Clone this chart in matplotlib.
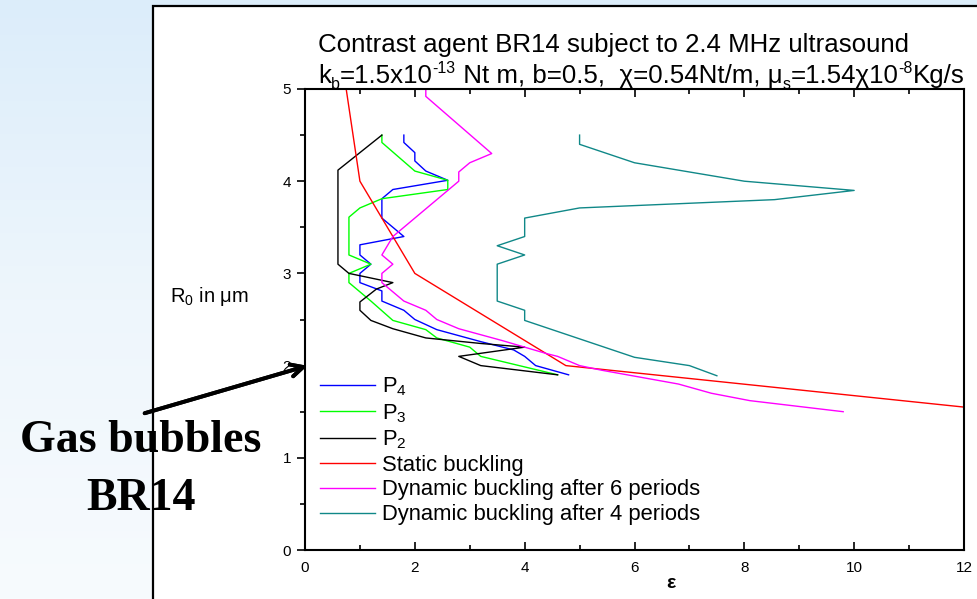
import numpy as np
import matplotlib.pyplot as plt
from matplotlib.colors import LinearSegmentedColormap
from matplotlib.patches import Rectangle
from matplotlib.ticker import MultipleLocator

plt.rcParams['font.family'] = ['Liberation Sans', 'DejaVu Sans']
plt.rcParams['mathtext.fontset'] = 'custom'
plt.rcParams['mathtext.rm'] = 'Liberation Sans'
plt.rcParams['mathtext.it'] = 'Liberation Sans:italic'

# buckling curves: strain eps (x) against initial radius R0 in um (y)
p4_eps = [1.8, 1.8, 2.0, 2.0, 2.2, 2.6, 1.6, 1.4, 1.4, 1.8, 1.0, 1.0, 1.2, 1.0, 1.0,
          1.4, 1.4, 1.8, 2.0, 2.4, 3.2, 3.8, 4.0, 4.2, 4.8]
p4_r0 = [4.5, 4.42, 4.31, 4.22, 4.11, 4.01, 3.91, 3.81, 3.6, 3.4, 3.31, 3.2, 3.1, 3.0, 2.9,
         2.81, 2.7, 2.6, 2.5, 2.39, 2.26, 2.17, 2.1, 2.0, 1.9]

p3_eps = [1.4, 1.4, 2.0, 2.6, 2.6, 1.4, 1.0, 0.8, 0.8, 1.2, 0.8, 0.8, 1.2, 1.6, 2.2,
          2.4, 3.0, 3.2, 4.6]
p3_r0 = [4.5, 4.42, 4.11, 4.01, 3.91, 3.81, 3.71, 3.61, 3.2, 3.1, 3.0, 2.9, 2.7, 2.49, 2.39,
         2.3, 2.2, 2.1, 1.9]

p2_eps = [1.4, 0.6, 0.6, 0.8, 1.6, 1.3, 1.0, 1.0, 1.2, 1.6, 2.2, 3.2, 4.0, 2.8, 3.2, 4.6]
p2_r0 = [4.5, 4.12, 3.1, 3.0, 2.9, 2.83, 2.69, 2.6, 2.49, 2.4, 2.3, 2.24, 2.2, 2.1, 2.0, 1.9]

static_eps = [0.75, 1.0, 2.0, 4.75, 12.0]
static_r0 = [5.0, 4.0, 3.0, 2.0, 1.55]

dyn6_eps = [2.2, 2.2, 3.4, 3.0, 2.8, 2.8, 1.6, 1.4, 1.6, 1.4, 1.4, 1.8, 2.2, 2.4, 2.8,
            3.6, 4.4, 4.6, 5.0, 5.4, 6.8, 7.4, 8.1, 9.8]
dyn6_r0 = [5.0, 4.92, 4.3, 4.2, 4.1, 4.0, 3.4, 3.2, 3.1, 3.0, 2.9, 2.7, 2.6, 2.5, 2.4,
           2.27, 2.13, 2.1, 2.0, 1.95, 1.8, 1.7, 1.62, 1.5]

dyn4_eps = [5.0, 5.0, 6.0, 8.0, 10.0, 8.55, 5.0, 4.0, 4.0, 3.5, 4.0, 3.5, 3.5, 4.0, 4.0,
            6.0, 7.0, 7.5]
dyn4_r0 = [4.5, 4.4, 4.2, 4.0, 3.9, 3.8, 3.71, 3.6, 3.4, 3.3, 3.2, 3.1, 2.7, 2.6, 2.49,
           2.09, 2.0, 1.89]

W, H = 978, 599
fig = plt.figure(figsize=(W / 100, H / 100), dpi=100)

# slide background with the white picture frame
bg = fig.add_axes([0, 0, 1, 1], zorder=-10)
slide = LinearSegmentedColormap.from_list('slide', ['#dcedfa', '#eef6fc', '#f7fbfe'])
bg.imshow(np.linspace(0, 1, 256)[:, None], aspect='auto', cmap=slide,
          extent=[0, 1, 0, 1], origin='upper')
bg.add_patch(Rectangle((153 / W, -0.05), 1, 1 - 6 / H + 0.05, facecolor='white',
                       edgecolor='black', lw=1.6, transform=bg.transAxes))
bg.set_xlim(0, 1)
bg.set_ylim(0, 1)
bg.set_axis_off()

ax = fig.add_axes([305 / W, 49 / H, 659 / W, 461 / H])
ax.set_facecolor('none')

lw = 1.0
ax.plot(p4_eps, p4_r0, color='#0000ff', lw=lw, label=r'P$_\mathregular{4}$')
ax.plot(p3_eps, p3_r0, color='#00ff00', lw=lw, label=r'P$_\mathregular{3}$')
ax.plot(p2_eps, p2_r0, color='black', lw=lw, label=r'P$_\mathregular{2}$')
ax.plot(static_eps, static_r0, color='#ff0000', lw=lw, label='Static buckling')
ax.plot(dyn6_eps, dyn6_r0, color='#ff00ff', lw=lw, label='Dynamic buckling after 6 periods')
ax.plot(dyn4_eps, dyn4_r0, color='#108888', lw=lw, label='Dynamic buckling after 4 periods')

ax.set_xlim(0, 12)
ax.set_ylim(0, 5)
ax.xaxis.set_major_locator(MultipleLocator(2))
ax.xaxis.set_minor_locator(MultipleLocator(1))
ax.yaxis.set_major_locator(MultipleLocator(1))
ax.yaxis.set_minor_locator(MultipleLocator(0.5))
ax.tick_params(axis='x', which='both', direction='in', top=True, bottom=True,
               labelsize=11, pad=8, width=1.2)
ax.tick_params(axis='y', which='both', direction='out', left=True, right=False,
               labelsize=11, pad=4, width=1.2)
ax.tick_params(which='major', length=6)
ax.tick_params(which='minor', length=3.5)
for s in ax.spines.values():
    s.set_linewidth(1.5)

ax.legend(loc='upper left', bbox_to_anchor=(0.0226, 0.378), frameon=False,
          fontsize=15.8, handlelength=2.5, handletextpad=0.32, labelspacing=0.17,
          borderpad=0, borderaxespad=0)

fig.text(318 / W, 1 - 52 / H, 'Contrast agent BR14 subject to 2.4 MHz ultrasound',
         fontsize=18.6, ha='left', va='baseline')

# second title line with sub/superscripts laid out run by run
renderer = fig.canvas.get_renderer()
runs = [('k', 1.0, 0), ('b', 0.62, -6), ('=1.5x10', 1.0, 0), ('-13', 0.62, 10),
        (' Nt m, b=0.5,  χ=0.54Nt/m, μ', 1.0, 0), ('s', 0.62, -6),
        ('=1.54χ10', 1.0, 0), ('-8', 0.62, 10), ('Kg/s', 1.0, 0)]
xpos = 318
for s, scale, dy in runs:
    t = fig.text(xpos / W, 1 - (83 - dy) / H, s, fontsize=18.6 * scale,
                 ha='left', va='baseline')
    xpos += t.get_window_extent(renderer=renderer).width

fig.text(170 / W, 1 - 297 / H, r'R$_\mathregular{0}$ in μm', fontsize=14.5,
         ha='left', va='center')
fig.text(671 / W, 1 - 583 / H, 'ε', fontsize=14, fontweight='bold',
         ha='center', va='center')

# annotation on the slide
fig.text(141 / W, 1 - 452 / H, 'Gas bubbles', family='Liberation Serif',
         fontweight='bold', fontsize=33, ha='center', va='baseline')
fig.text(141 / W, 1 - 510 / H, 'BR14', family='Liberation Serif',
         fontweight='bold', fontsize=33, ha='center', va='baseline')
fig.add_artist(plt.annotate('', xy=(310 / W, 1 - 365 / H), xycoords='figure fraction',
                            xytext=(142 / W, 1 - 414 / H), textcoords='figure fraction',
                            arrowprops=dict(arrowstyle='->', lw=2.8, color='black',
                                            mutation_scale=22)))

fig.savefig('out.png', dpi=100)
